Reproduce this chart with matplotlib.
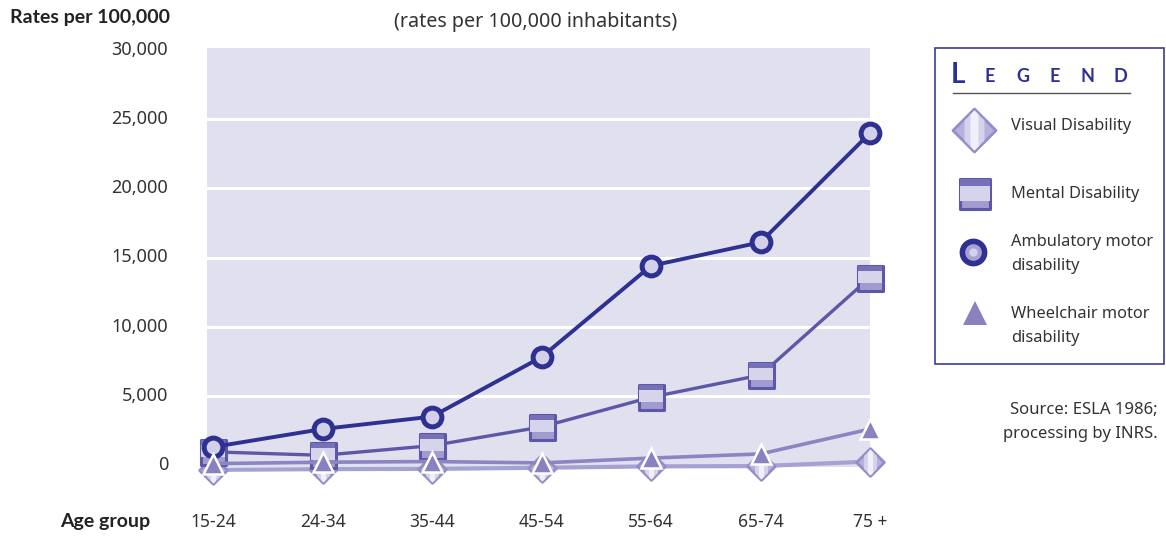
import matplotlib
matplotlib.use('Agg')
import matplotlib.pyplot as plt
import numpy as np
from matplotlib.path import Path

plt.rcParams['font.family'] = ['Noto Sans', 'DejaVu Sans']

# data (rates per 100,000 inhabitants)
age_groups = ["15-24", "24-34", "35-44", "45-54", "55-64", "65-74", "75 +"]
visual = [-350, -300, -280, -200, -100, -80, 250]
mental = [950, 700, 1400, 2750, 4900, 6500, 13550]
ambulatory = [1300, 2600, 3500, 7800, 14400, 16100, 24000]
wheelchair = [100, 200, 250, 150, 500, 800, 2600]
yticks = [0, 5000, 10000, 15000, 20000, 25000, 30000]

NAVY = '#2e3192'
MENTAL_C = '#5d57a8'
WHEEL_C = '#8c85c3'
VIS_C = '#a6a1d3'
BG = '#e1e0ef'
TXT = '#333333'
BOLD_FAM = ['Lato', 'DejaVu Sans']


def poly(pts):
    return Path(pts + [pts[0]], [Path.MOVETO] + [Path.LINETO] * (len(pts) - 1) + [Path.CLOSEPOLY])


# diamond with vertical bands (each layer touches the +-1 extent so they scale together)
DIAMOND = poly([(0, 1), (1, 0), (0, -1), (-1, 0)])
D_MID = poly([(0, 1), (0.5, 0.5), (0.5, -0.5), (0, -1), (-0.5, -0.5), (-0.5, 0.5)])
D_IN = poly([(0, 1), (0.2, 0.8), (0.2, -0.8), (0, -1), (-0.2, -0.8), (-0.2, 0.8)])
# square with horizontal bands
SQUARE = poly([(-1, -1), (1, -1), (1, 1), (-1, 1)])
S_MID = poly([(-1, -0.45), (1, -0.45), (1, 0.55), (-1, 0.55)])
S_TOP = poly([(-1, 0.55), (1, 0.55), (1, 1), (-1, 1)])


def draw_diamond(ax, x, y, ms, z, **kw):
    ax.plot(x, y, ls='none', marker=DIAMOND, ms=ms, mfc='#b6b1dd', mec='#948ec8', mew=2, zorder=z, **kw)
    ax.plot(x, y, ls='none', marker=D_MID, ms=ms * 0.93, mfc='#d5d2eb', mew=0, zorder=z, **kw)
    ax.plot(x, y, ls='none', marker=D_IN, ms=ms * 0.93, mfc='#f0effa', mew=0, zorder=z, **kw)


def draw_square(ax, x, y, ms, z, **kw):
    ax.plot(x, y, ls='none', marker=SQUARE, ms=ms, mfc='#a19cd0', mec='#5d57a8', mew=2.2, zorder=z, **kw)
    ax.plot(x, y, ls='none', marker=S_MID, ms=ms * 0.95, mfc='#d6d4eb', mew=0, zorder=z, **kw)
    ax.plot(x, y, ls='none', marker=S_TOP, ms=ms * 0.95, mfc='#7570b8', mew=0, zorder=z, **kw)


fig = plt.figure(figsize=(11.66, 5.36), dpi=100)
W, H = 1166, 536
ax = fig.add_axes([207 / W, 1 - 467 / H, (870 - 207) / W, (467 - 48) / H])
ax.set_facecolor(BG)
for s in ax.spines.values():
    s.set_visible(False)

x = np.arange(len(age_groups))
ax.set_xlim(-0.055, 6)
ax.set_ylim(-145, 30145)
for yt in yticks[1:-1]:
    ax.axhline(yt, color='white', lw=2.2, zorder=1)

# visual
ax.plot(x, visual, color=VIS_C, lw=3, zorder=2, clip_on=False)
draw_diamond(ax, x, visual, 20, 2, clip_on=False)
# mental
ax.plot(x, mental, color=MENTAL_C, lw=2.4, zorder=3, clip_on=False)
draw_square(ax, x, mental, 18, 3, clip_on=False)
# ambulatory
ax.plot(x, ambulatory, color=NAVY, lw=2.8, zorder=4, clip_on=False)
ax.plot(x, ambulatory, ls='none', marker='o', ms=13.5, mfc='#d3d1ea', mec=NAVY, mew=3.6, zorder=4, clip_on=False)
# wheelchair
ax.plot(x, wheelchair, color=WHEEL_C, lw=2.6, zorder=5, clip_on=False)
ax.plot(x, wheelchair, ls='none', marker='^', ms=15, mfc='#8a82c0', mec='white', mew=1.8, zorder=5, clip_on=False)

ax.set_yticks(yticks)
ax.set_yticklabels([f"{v:,}" for v in yticks], fontsize=13, color=TXT)
ax.set_xticks(x)
ax.set_xticklabels(age_groups, fontsize=12.5, color=TXT)
ax.tick_params(axis='y', length=0, pad=28)
ax.tick_params(axis='x', length=0, pad=33)
for lbl in ax.get_yticklabels():
    lbl.set_verticalalignment('center')

# overlay in pixel coordinates for texts and legend
ov = fig.add_axes([0, 0, 1, 1], facecolor='none')
ov.set_xlim(0, W)
ov.set_ylim(H, 0)
ov.axis('off')

ov.text(10, 18, "Rates per 100,000", fontsize=14, family=BOLD_FAM, color='#222222', fontweight='bold', va='center')
ov.text(536, 22, "(rates per 100,000 inhabitants)", fontsize=14.2, color=TXT, ha='center', va='center')
ov.text(150, 522, "Age group", fontsize=14, family=BOLD_FAM, color='#222222', fontweight='bold', ha='right', va='center')
ov.text(1158, 410, "Source: ESLA 1986;", fontsize=12, color=TXT, ha='right', va='center')
ov.text(1158, 434, "processing by INRS.", fontsize=12, color=TXT, ha='right', va='center')

# legend box
ov.add_patch(plt.Rectangle((935, 48), 229, 316, fill=False, ec='#3c3c9c', lw=1.2))
ov.text(951, 75, "L", fontsize=20, family=BOLD_FAM, color=NAVY, fontweight='bold', va='center')
for i, ch in enumerate("EGEND"):
    ov.text(990 + i * 32.5, 77, ch, fontsize=13, family=BOLD_FAM, color=NAVY, fontweight='bold',
            va='center', ha='center')
ov.plot([953, 1130], [93, 93], color='#555555', lw=1)

draw_diamond(ov, [974], [130], 31, 6)
ov.text(1011, 126, "Visual Disability", fontsize=11.8, color=TXT, va='center')
draw_square(ov, [975], [194], 22, 6)
ov.text(1011, 194, "Mental Disability", fontsize=11.8, color=TXT, va='center')
ov.plot([973], [252], ls='none', marker='o', ms=16, mfc='#a7a2d4', mec=NAVY, mew=4, zorder=6)
ov.plot([973], [252], ls='none', marker='o', ms=6, mfc='#d4d1eb', mew=0, zorder=6)
ov.text(1011, 242, "Ambulatory motor", fontsize=11.8, color=TXT, va='center')
ov.text(1011, 266, "disability", fontsize=11.8, color=TXT, va='center')
ov.plot([975], [313], ls='none', marker='^', ms=17, mfc='#8a82c0', mew=0, zorder=6)
ov.text(1011, 314, "Wheelchair motor", fontsize=11.8, color=TXT, va='center')
ov.text(1011, 338, "disability", fontsize=11.8, color=TXT, va='center')

fig.savefig('out.png', dpi=100)
